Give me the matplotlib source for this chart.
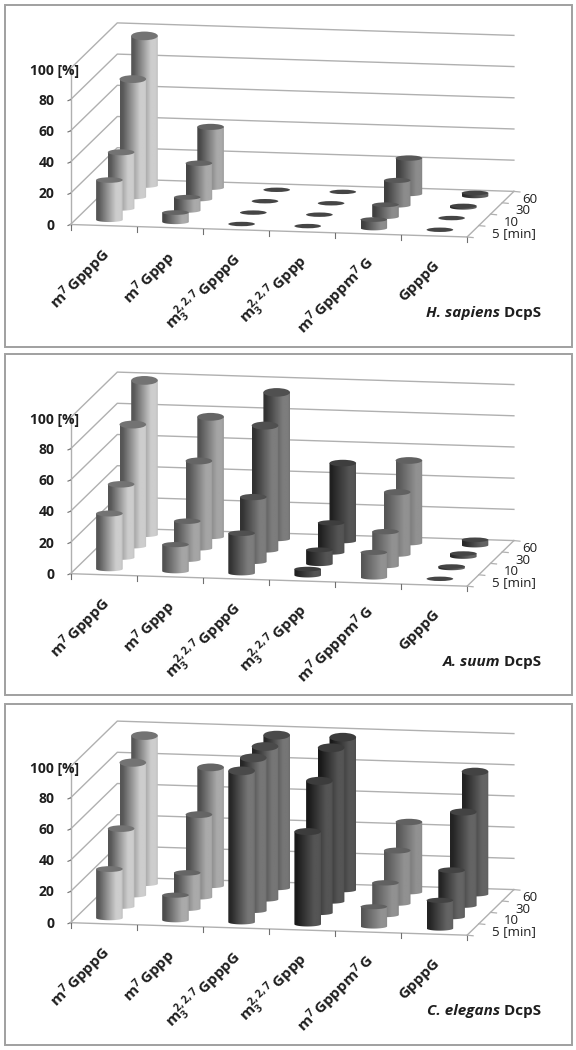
import numpy as np
import matplotlib
matplotlib.use('Agg')
import matplotlib.pyplot as plt
from matplotlib.patches import Ellipse, PathPatch, Rectangle
from matplotlib.path import Path

plt.rcParams['font.family'] = ['Open Sans', 'DejaVu Sans']
plt.rcParams['mathtext.default'] = 'regular'

categories = ['m$^{7}\\,$GpppG', 'm$^{7}\\,$Gppp', 'm$_{3}^{2,2,7}\\,$GpppG',
              'm$_{3}^{2,2,7}\\,$Gppp', 'm$^{7}\\,$Gpppm$^{7}\\,$G', 'GpppG']
depth_labels = ['5 [min]', '10', '30', '60']
value_ticks = [0, 20, 40, 60, 80, 100]

hsapiens = [[25.5, 36, 75.6, 96], [6, 8.5, 23, 39], [0, 0, 0, 0],
            [0, 0, 0, 0], [5.5, 7.7, 16, 23], [0.3, 0.5, 1, 2]]
asuum = [[35.6, 47, 78, 99], [17, 24.7, 56, 77], [25.6, 41.5, 80, 94],
         [4, 9, 19, 50], [16, 22, 40, 53], [0.4, 1, 2, 3.5]]
celegans = [[31.4, 50, 85, 95], [16, 23, 53, 76], [97, 98, 98, 98],
            [59.4, 84.6, 98.5, 98], [12.6, 20.6, 34, 45], [18, 30, 60, 78.6]]

hsapiens_tones = [(85, 205), (70, 170), (60, 110), (45, 90), (62, 140), (40, 95)]
asuum_tones = [(85, 205), (80, 165), (50, 125), (32, 85), (85, 145), (40, 100)]
celegans_tones = [(85, 205), (75, 170), (38, 118), (25, 85), (85, 145), (35, 100)]

titles = ['H. sapiens', 'A. suum', 'C. elegans']

PANEL_DATA = [hsapiens, asuum, celegans]
PANEL_TONES = [hsapiens_tones, asuum_tones, celegans_tones]
PANEL_Y0 = [224.5, 573.7, 922.7]
PANEL_BOX = [(4.7, 4.5, 346.5), (4.7, 353.5, 695), (4.7, 703.5, 1045)]

X0 = 70.5
CAT_DX, CAT_DY = 66.1, 2.08
DEP_DX, DEP_DY = 11.7, -11.4
VSCALE = 1.56
RX = 13.3
INK = '#1e1e1e'

fig = plt.figure(figsize=(5.76, 10.5), dpi=100)
ax = fig.add_axes([0, 0, 1, 1])
ax.set_xlim(0, 576)
ax.set_ylim(1050, 0)
ax.axis('off')
ax.autoscale(False)


def proj(y0, c, d, v=0.0):
    return X0 + c * CAT_DX + d * DEP_DX, y0 + c * CAT_DY + d * DEP_DY - v * VSCALE


def ry_at(v):
    return 2.2 + 0.022 * min(v, 100)


def cylinder(y0, c, d, v, tone, z):
    cx, yb = proj(y0, c + 0.5, d + 0.5)
    _, yt = proj(y0, c + 0.5, d + 0.5, v)
    rb, rt = ry_at(0), ry_at(v)
    th = np.linspace(0, np.pi, 30)
    low = np.column_stack([cx - RX * np.cos(th), yb + rb * np.sin(th)])
    top = np.column_stack([cx + RX * np.cos(th), yt + 0 * th])
    verts = np.vstack([low, top, low[:1]])
    codes = [Path.MOVETO] + [Path.LINETO] * (len(verts) - 2) + [Path.CLOSEPOLY]
    lo, hi = tone
    u = np.linspace(0, 1, 40)
    shade = np.interp(u, [0, 0.1, 0.75, 0.92, 1], [lo, lo * 1.05, hi, hi, hi * 0.93])
    if v > 0.8:
        im = ax.imshow(shade[None, :], cmap='gray', vmin=0, vmax=255, aspect='auto',
                       extent=(cx - RX, cx + RX, yb + rb + 1, yt - 1), zorder=z,
                       interpolation='bilinear')
        im.set_clip_path(PathPatch(Path(verts, codes), transform=ax.transData))
    cap = 0.62 * (lo + hi) / 2 / 255 + 0.1 if v > 0.8 else 0.27
    ax.add_patch(Ellipse((cx, yt), 2 * RX, 2 * rt, fc=str(min(cap, 0.72)), ec='none', zorder=z + 0.5))


z = 10
for p, (data, tones, y0) in enumerate(zip(PANEL_DATA, PANEL_TONES, PANEL_Y0)):
    left, top, bottom = PANEL_BOX[p]
    ax.add_patch(Rectangle((left, top), 567, bottom - top, fc='white', ec='#a0a0a0', lw=1.4, zorder=1))
    grid = '#b0b0b0'
    for v in value_ticks:
        pts = [proj(y0, 0, 0, v), proj(y0, 0, 4, v), proj(y0, 6, 4, v)]
        ax.plot(*zip(*pts), color=grid, lw=1.0, zorder=2)
        xa, ya = proj(y0, 0, 0, v)
        ax.plot([xa - 2.5, xa], [ya + 1, ya], color='#707070', lw=0.8, zorder=2)
        if v < 100:
            ax.text(54.5, ya + 1, str(v), ha='right', va='center',
                    fontsize=10, weight='bold', color=INK, zorder=3)
    ax.text(30.5, proj(y0, 0, 0, 100)[1] + 2, '100 [%]', ha='left', va='center',
            fontsize=10, weight='bold', color=INK, zorder=3)
    ax.plot(*zip(proj(y0, 0, 0), proj(y0, 0, 0, 100)), color=grid, lw=1.0, zorder=2)
    ax.plot(*zip(proj(y0, 0, 0), proj(y0, 6, 0), proj(y0, 6, 4)), color=grid, lw=1.0, zorder=2)
    for c in range(7):
        xt, yt = proj(y0, c, 0)
        ax.plot([xt, xt], [yt, yt + 5], color='#707070', lw=0.8, zorder=2)
    for d in range(5):
        xt, yt = proj(y0, 6, d)
        ax.plot([xt, xt + 6], [yt, yt + 0.6], color=grid, lw=0.9, zorder=2)
    for d, lab in enumerate(depth_labels):
        xt, yt = proj(y0, 6, d + 0.5)
        ax.text(xt + (19.5 if d < 3 else 14.5), yt + 2.5, lab, ha='left', va='center', fontsize=9.5,
                color=INK, zorder=3)
    for c, lab in enumerate(categories):
        xt, yt = proj(y0, c + 0.5, 0)
        ax.text(xt + 3, yt + 27, lab, rotation=45, rotation_mode='anchor', ha='right', va='center',
                fontsize=11, weight='bold', color=INK, zorder=3)
    t = ax.text(541.5, y0 + 88.5, ' DcpS', ha='right', va='center', fontsize=11, weight='bold',
                color=INK, zorder=3)
    ax.annotate(titles[p], xy=(0, 0), xycoords=t, ha='right', va='bottom', fontsize=11, style='italic',
                weight='bold', color=INK, zorder=3)
    for c in range(6):
        for d in range(3, -1, -1):
            cylinder(y0, c, d, data[c][d], tones[c], z)
            z += 1

fig.savefig('out.png', dpi=100)
